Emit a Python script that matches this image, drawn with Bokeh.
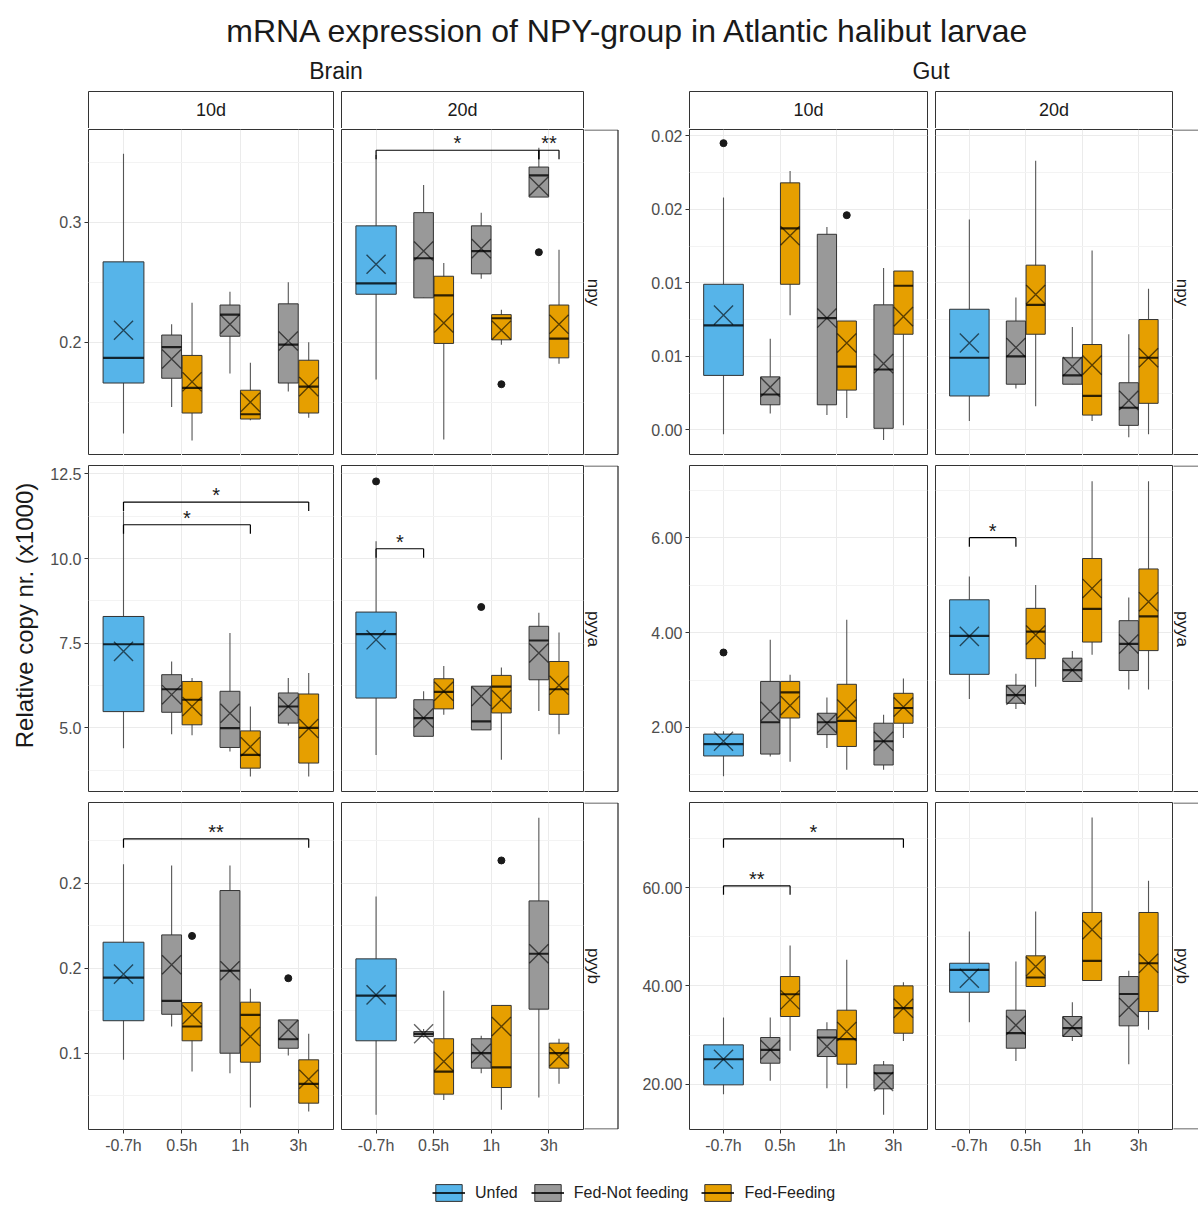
import math
from bokeh.plotting import figure
from bokeh.models import (ColumnDataSource, Range1d, LinearAxis, FixedTicker,
                          Grid, Label, Legend, LegendItem, Spacer)
from bokeh.layouts import row, column
from bokeh.embed import file_html
from bokeh.resources import INLINE
from bokeh.core.properties import value

# ---------------------------------------------------------------- data
chart_title = "mRNA expression of NPY-group in Atlantic halibut larvae"
y_title = "Relative copy nr. (x1000)"
tissues = ["Brain", "Gut"]
days = ["10d", "20d"]
genes = ["npy", "pyya", "pyyb"]
times = ["-0.7h", "0.5h", "1h", "3h"]
groups = ["Unfed", "Fed-Not feeding", "Fed-Feeding"]

# one box per (time, group)
box_time = [0, 1, 1, 2, 2, 3, 3]
box_group = [0, 1, 2, 1, 2, 1, 2]

# [lower whisker, Q1, median, Q3, upper whisker, mean] per box
brain_npy_10d = [
    [0.124, 0.166, 0.187, 0.267, 0.357, 0.210],
    [0.146, 0.170, 0.196, 0.206, 0.215, 0.186],
    [0.118, 0.141, 0.162, 0.189, 0.233, 0.167],
    [0.174, 0.205, 0.223, 0.231, 0.242, 0.215],
    [0.135, 0.136, 0.140, 0.160, 0.183, 0.150],
    [0.159, 0.166, 0.198, 0.232, 0.250, 0.201],
    [0.137, 0.141, 0.163, 0.185, 0.200, 0.163],
]
brain_npy_20d = [
    [0.169, 0.240, 0.249, 0.297, 0.356, 0.265],
    [0.237, 0.237, 0.270, 0.308, 0.331, 0.276],
    [0.119, 0.199, 0.239, 0.255, 0.266, 0.216],
    [0.253, 0.257, 0.276, 0.297, 0.308, 0.278],
    [0.198, 0.202, 0.220, 0.223, 0.227, 0.210],
    [0.321, 0.321, 0.339, 0.346, 0.362, 0.330],
    [0.182, 0.187, 0.203, 0.231, 0.277, 0.215],
]
gut_npy_10d = [
    [-0.0003, 0.0037, 0.0071, 0.0099, 0.0158, 0.0078],
    [0.0011, 0.0017, 0.0024, 0.0036, 0.0062, 0.0029],
    [0.0078, 0.0099, 0.0137, 0.0168, 0.0176, 0.0132],
    [0.0010, 0.0017, 0.0076, 0.0133, 0.0138, 0.0076],
    [0.0008, 0.0027, 0.0043, 0.0074, 0.0074, 0.0059],
    [-0.0007, 0.0001, 0.0041, 0.0085, 0.0110, 0.0045],
    [0.0003, 0.0065, 0.0098, 0.0108, 0.0108, 0.0077],
]
gut_npy_20d = [
    [0.0006, 0.0023, 0.0049, 0.0082, 0.0143, 0.0059],
    [0.0028, 0.0031, 0.0050, 0.0074, 0.0090, 0.0056],
    [0.0016, 0.0065, 0.0085, 0.0112, 0.0183, 0.0092],
    [0.0031, 0.0031, 0.0037, 0.0049, 0.0070, 0.0043],
    [0.0006, 0.0010, 0.0023, 0.0058, 0.0122, 0.0044],
    [-0.0005, 0.0003, 0.0015, 0.0032, 0.0065, 0.0020],
    [-0.0003, 0.0018, 0.0049, 0.0075, 0.0096, 0.0049],
]
brain_pyya_10d = [
    [4.40, 5.48, 7.47, 8.29, 11.39, 7.26],
    [4.81, 5.46, 6.14, 6.57, 6.96, 5.98],
    [4.78, 5.09, 5.83, 6.37, 6.47, 5.63],
    [4.30, 4.42, 4.99, 6.08, 7.80, 5.43],
    [3.56, 3.81, 4.20, 4.91, 5.63, 4.44],
    [5.07, 5.14, 5.63, 6.03, 6.47, 5.63],
    [3.56, 3.96, 5.00, 6.00, 6.62, 4.98],
]
brain_pyya_20d = [
    [4.20, 5.88, 7.77, 8.42, 10.51, 7.60],
    [4.75, 4.75, 5.29, 5.83, 6.08, 5.29],
    [5.39, 5.56, 6.06, 6.45, 6.83, 6.08],
    [4.94, 4.94, 5.19, 6.23, 6.23, 5.93],
    [4.06, 5.44, 6.22, 6.55, 6.78, 5.83],
    [5.50, 6.42, 7.58, 8.00, 8.40, 7.21],
    [4.81, 5.40, 6.14, 6.96, 7.82, 6.26],
]
gut_pyya_10d = [
    [0.97, 1.40, 1.65, 1.86, 1.92, 1.71],
    [1.39, 1.44, 2.11, 2.97, 3.85, 2.34],
    [1.28, 2.20, 2.74, 2.97, 3.11, 2.46],
    [1.57, 1.85, 2.11, 2.30, 2.63, 2.09],
    [1.11, 1.60, 2.14, 2.91, 4.27, 2.39],
    [1.11, 1.21, 1.71, 2.09, 2.27, 1.71],
    [1.78, 2.09, 2.41, 2.72, 3.03, 2.43],
]
gut_pyya_20d = [
    [2.60, 3.12, 3.93, 4.69, 5.18, 3.92],
    [2.39, 2.51, 2.68, 2.89, 3.13, 2.68],
    [2.86, 3.45, 4.02, 4.51, 5.00, 3.95],
    [2.97, 2.97, 3.21, 3.46, 3.61, 3.21],
    [3.53, 3.80, 4.50, 5.56, 7.19, 4.93],
    [2.80, 3.20, 3.76, 4.25, 4.74, 3.76],
    [2.80, 3.62, 4.34, 5.34, 7.19, 4.65],
]
brain_pyyb_10d = [
    [0.0961, 0.1191, 0.1445, 0.1653, 0.2112, 0.1465],
    [0.1157, 0.1229, 0.1308, 0.1696, 0.2104, 0.1520],
    [0.0892, 0.1073, 0.1157, 0.1298, 0.1298, 0.1226],
    [0.0882, 0.1000, 0.1485, 0.1957, 0.2104, 0.1485],
    [0.0681, 0.0947, 0.1226, 0.1300, 0.1379, 0.1098],
    [0.0986, 0.1029, 0.1082, 0.1196, 0.1196, 0.1138],
    [0.0657, 0.0706, 0.0820, 0.0961, 0.1114, 0.0847],
]
brain_pyyb_20d = [
    [0.0638, 0.1073, 0.1339, 0.1555, 0.1922, 0.1343],
    [0.1092, 0.1098, 0.1114, 0.1127, 0.1143, 0.1114],
    [0.0725, 0.0759, 0.0892, 0.1085, 0.1367, 0.0951],
    [0.0882, 0.0912, 0.1000, 0.1085, 0.1102, 0.1000],
    [0.0667, 0.0798, 0.0916, 0.1281, 0.1281, 0.1157],
    [0.0739, 0.1259, 0.1585, 0.1896, 0.2386, 0.1585],
    [0.0820, 0.0912, 0.1000, 0.1059, 0.1085, 0.0980],
]
gut_pyyb_10d = [
    [17.97, 19.87, 25.08, 28.00, 33.57, 25.08],
    [20.69, 24.27, 27.00, 29.50, 33.57, 27.00],
    [26.80, 33.77, 38.30, 41.90, 48.21, 37.16],
    [19.20, 25.63, 29.50, 31.07, 32.60, 27.70],
    [19.20, 24.07, 29.16, 35.05, 45.30, 30.72],
    [13.78, 19.06, 22.23, 23.92, 24.74, 20.54],
    [28.80, 30.37, 35.46, 40.00, 40.75, 35.46],
]
gut_pyyb_20d = [
    [32.60, 38.71, 43.26, 44.60, 51.06, 41.56],
    [24.74, 27.32, 30.37, 35.05, 44.95, 32.00],
    [39.87, 39.87, 41.70, 46.11, 55.12, 43.94],
    [28.80, 29.70, 31.40, 33.77, 36.68, 31.70],
    [41.09, 41.09, 45.10, 54.92, 74.24, 51.40],
    [24.07, 31.87, 38.35, 41.90, 43.06, 35.60],
    [31.07, 34.78, 44.60, 54.92, 61.37, 44.60],
]

# outliers: (box index, value)
brain_npy_20d_outliers = [(4, 0.165), (5, 0.275)]
gut_npy_10d_outliers = [(0, 0.0195), (4, 0.0146)]
brain_pyya_20d_outliers = [(0, 12.28), (3, 8.57)]
gut_pyya_10d_outliers = [(0, 3.58)]
brain_pyyb_10d_outliers = [(2, 0.169), (5, 0.1441)]
brain_pyyb_20d_outliers = [(4, 0.2134)]

# significance brackets: (box a, box b, bracket level, label)
brain_npy_20d_sig = [(0, 5, 0.360, "*"), (5, 6, 0.360, "**")]
brain_pyya_10d_sig = [(0, 6, 11.67, "*"), (0, 4, 11.00, "*")]
brain_pyya_20d_sig = [(0, 1, 10.29, "*")]
gut_pyya_20d_sig = [(0, 1, 6.00, "*")]
brain_pyyb_10d_sig = [(0, 6, 0.2261, "**")]
gut_pyyb_10d_sig = [(0, 6, 69.9, "*"), (0, 2, 60.35, "**")]

# y-axis ticks and tick labels
brain_npy_ticks = [0.2, 0.3]
brain_npy_tick_labels = ["0.2", "0.3"]
gut_npy_ticks = [0, 0.005, 0.01, 0.015, 0.02]
gut_npy_tick_labels = ["0.00", "0.01", "0.01", "0.02", "0.02"]
brain_pyya_ticks = [5, 7.5, 10, 12.5]
brain_pyya_tick_labels = ["5.0", "7.5", "10.0", "12.5"]
gut_pyya_ticks = [2, 4, 6]
gut_pyya_tick_labels = ["2.00", "4.00", "6.00"]
brain_pyyb_ticks = [0.1, 0.15, 0.2]
brain_pyyb_tick_labels = ["0.1", "0.2", "0.2"]
gut_pyyb_ticks = [20, 40, 60]
gut_pyyb_tick_labels = ["20.00", "40.00", "60.00"]

# ------------------------------------------------------ lookup tables
G = globals()
stats = {(t, g, d): G[f"{t.lower()}_{g}_{d}"] for t in tissues for g in genes for d in days}
outliers = {k: G.get(f"{k[0].lower()}_{k[1]}_{k[2]}_outliers", []) for k in stats}
sigs = {k: G.get(f"{k[0].lower()}_{k[1]}_{k[2]}_sig", []) for k in stats}
ticks = {(t, g): G[f"{t.lower()}_{g}_ticks"] for t in tissues for g in genes}
tick_labels = {(t, g): G[f"{t.lower()}_{g}_tick_labels"] for t in tissues for g in genes}

# ------------------------------------------------------ styling / layout
FONT = "Liberation Sans"
EDGE = "#333333"
group_colors = ["#56B4E9", "#999999", "#E69F00"]
group_offset = [0.0, -0.175, 0.175]
group_width = [0.70, 0.34, 0.34]
y_limits = {
    ("Brain", "npy"): (0.1056, 0.3773), ("Gut", "npy"): (-0.00175, 0.02043),
    ("Brain", "pyya"): (3.09, 12.75), ("Gut", "pyya"): (0.63, 7.52),
    ("Brain", "pyyb"): (0.0551, 0.2475), ("Gut", "pyyb"): (10.79, 77.29),
}
HEADER_H, STRIP_H, LEGEND_H, YLAB_W, TOTAL_W = 90, 38, 44, 45, 1198
# (figure width, left border) per column
col_spec = {("Brain", "10d"): (289, 43), ("Brain", "20d"): (250, 7),
            ("Gut", "10d"): (309, 70), ("Gut", "20d"): (245, 7)}
strip_w = {"Brain": 35, "Gut": 25}
# (frame height, top border, bottom border) per row
row_spec = [(326, 1, 0), (327, 10, 0), (327, 10, 32)]

# screen x of each column's canvas
col_left = {}
_x = YLAB_W
for _t in tissues:
    col_left[(_t, "10d")] = _x; _x += col_spec[(_t, "10d")][0]
    col_left[(_t, "20d")] = _x; _x += col_spec[(_t, "20d")][0]
    col_left[(_t, "strip")] = _x; _x += strip_w[_t]


def base_fig(width, height, xr, yr, bl=0, br=0, bt=0, bb=0):
    p = figure(width=width, height=height, x_range=xr, y_range=yr,
               output_backend="svg", toolbar_location=None, title=None,
               x_axis_location=None, y_axis_location=None,
               min_border_left=bl, min_border_right=br,
               min_border_top=bt, min_border_bottom=bb)
    p.center = []
    p.outline_line_color = None
    p.background_fill_color = "white"
    p.border_fill_color = "white"
    return p


def style_axis(ax):
    ax.axis_line_color = None
    ax.major_tick_line_color = EDGE
    ax.major_tick_out = 4
    ax.major_tick_in = 0
    ax.minor_tick_line_color = None
    ax.major_label_standoff = 3
    ax.major_label_text_font = FONT
    ax.major_label_text_font_size = "16px"
    ax.major_label_text_color = "#4D4D4D"


def overrides(vals, labs):
    d = {}
    for v, l in zip(vals, labs):
        d[v] = l
        d[str(v)] = l
    return d


def make_panel(tissue, gene, day, yr, ri):
    width, bl = col_spec[(tissue, day)]
    fh, bt, bb = row_spec[ri]
    p = base_fig(width, fh + bt + bb, Range1d(0.4, 4.6), yr, bl=bl, br=1, bt=bt, bb=bb)
    p.outline_line_color = EDGE
    p.outline_line_width = 1

    tk = ticks[(tissue, gene)]
    step = tk[1] - tk[0]
    minors = [tk[0] + step * (k + 0.5) for k in range(-4, len(tk) + 4)]
    minors = [m for m in minors if yr.start < m < yr.end]
    p.add_layout(Grid(dimension=0, ticker=FixedTicker(ticks=[1, 2, 3, 4]),
                      grid_line_color="#EBEBEB", grid_line_width=1), "center")
    p.add_layout(Grid(dimension=1, ticker=FixedTicker(ticks=tk, minor_ticks=minors),
                      grid_line_color="#EBEBEB", grid_line_width=1,
                      minor_grid_line_color="#F3F3F3"), "center")

    if day == "10d":
        ax = LinearAxis(ticker=FixedTicker(ticks=tk),
                        major_label_overrides=overrides(tk, tick_labels[(tissue, gene)]))
        style_axis(ax)
        p.add_layout(ax, "left")
    if ri == 2:
        ax = LinearAxis(ticker=FixedTicker(ticks=[1, 2, 3, 4]),
                        major_label_overrides=overrides([1, 2, 3, 4], times))
        style_axis(ax)
        p.add_layout(ax, "below")

    st = stats[(tissue, gene, day)]
    xs = [box_time[i] + 1 + group_offset[box_group[i]] for i in range(len(st))]
    hw = [group_width[box_group[i]] / 2 for i in range(len(st))]
    src = ColumnDataSource(dict(
        x=xs, left=[x - h for x, h in zip(xs, hw)], right=[x + h for x, h in zip(xs, hw)],
        lo=[s[0] for s in st], q1=[s[1] for s in st], med=[s[2] for s in st],
        q3=[s[3] for s in st], hi=[s[4] for s in st], mean=[s[5] for s in st],
        fill=[group_colors[box_group[i]] for i in range(len(st))]))
    p.segment(x0="x", y0="lo", x1="x", y1="hi", source=src, line_color="#555555", line_width=1.1)
    p.quad(left="left", right="right", bottom="q1", top="q3", source=src,
           fill_color="fill", line_color=EDGE, line_width=1)
    p.segment(x0="left", y0="med", x1="right", y1="med", source=src,
              line_color="black", line_alpha=0.8, line_width=2.2)
    p.scatter(x="x", y="mean", source=src, marker="x", size=27,
              line_color="black", line_alpha=0.6, line_width=1.4)

    outs = outliers[(tissue, gene, day)]
    if outs:
        p.scatter(x=[xs[i] for i, _ in outs], y=[v for _, v in outs], size=7,
                  fill_color="#1A1A1A", line_color="#1A1A1A")

    sg = sigs[(tissue, gene, day)]
    if sg:
        tick_len = (yr.end - yr.start) * 9.0 / fh
        x0, y0, x1, y1, tx, ty, tt = [], [], [], [], [], [], []
        for a, b, lev, lab in sg:
            xa, xb = xs[a], xs[b]
            x0 += [xa, xa, xb]; x1 += [xb, xa, xb]
            y0 += [lev, lev, lev]; y1 += [lev, lev - tick_len, lev - tick_len]
            tx.append((xa + xb) / 2); ty.append(lev); tt.append(lab)
        p.segment(x0=x0, y0=y0, x1=x1, y1=y1, line_color="black", line_width=1.2)
        p.text(x=tx, y=ty, text=tt, y_offset=-7, text_align="center",
               text_baseline="middle", text_font=value(FONT),
               text_font_size="20px", text_color="#1A1A1A")
    return p


def top_strip(tissue, day):
    # decoration drawn in screen pixels: x = page x, y = pixels above strip bottom
    width, bl = col_spec[(tissue, day)]
    cl = col_left[(tissue, day)]
    p = base_fig(width, STRIP_H, Range1d(cl, cl + width), Range1d(0, STRIP_H))
    xl, xr = cl + bl, cl + width - 1
    top = STRIP_H - 1
    p.segment(x0=[xl, xl, xr], y0=[top, 0, 0], x1=[xr, xl, xr], y1=[top, top, top],
              line_color=EDGE, line_width=1)
    p.add_layout(Label(x=(xl + xr) / 2, y=top / 2, text=day, text_align="center",
                       text_baseline="middle", text_font=FONT, text_font_size="18px",
                       text_color="#1A1A1A"))
    return p


def right_strip(tissue, gene, ri):
    # the row aligns this figure's frame with the panels' frames
    w = strip_w[tissue]
    cl = col_left[(tissue, "strip")]
    fh, bt, bb = row_spec[ri]
    p = base_fig(w, fh + bt + bb, Range1d(cl, cl + w), Range1d(0, fh), bt=bt, bb=bb)
    y_top = fh - 0.5
    y_bot = 1 if bb == 0 else 0.5
    x_end = cl + w - 1.5 if tissue == "Brain" else cl + w + 2
    x0 = [cl - 1, cl - 1]; x1 = [x_end, x_end]; y0 = [y_top, y_bot]; y1 = [y_top, y_bot]
    p.segment(x0=x0, y0=y0, x1=x1, y1=y1, line_color=EDGE, line_width=1)
    if tissue == "Brain":
        p.segment(x0=[x_end], y0=[y_bot], x1=[x_end], y1=[y_top],
                  line_color=EDGE, line_width=1.3)
    p.add_layout(Label(x=cl + 9, y=fh / 2, text=gene, angle=-math.pi / 2,
                       text_align="center", text_baseline="middle", text_font=FONT,
                       text_font_size="17px", text_color="#1A1A1A"))
    return p


# ------------------------------------------------------------ header
hdr = base_fig(TOTAL_W, HEADER_H, Range1d(0, TOTAL_W), Range1d(0, HEADER_H))
hdr.add_layout(Label(x=628, y=HEADER_H - 30, text=chart_title, text_align="center",
                     text_baseline="middle", text_font=FONT, text_font_size="32px",
                     text_color="#1A1A1A"))
for t in tissues:
    left = col_left[(t, "10d")] + col_spec[(t, "10d")][1]
    right = col_left[(t, "strip")] - 1
    hdr.add_layout(Label(x=(left + right) / 2, y=HEADER_H - 70, text=t, text_align="center",
                         text_baseline="middle", text_font=FONT, text_font_size="23px",
                         text_color="#1A1A1A"))

# ------------------------------------------------------------ panels
strip_children = []
for t in tissues:
    strip_children += [top_strip(t, "10d"), top_strip(t, "20d"),
                       Spacer(width=strip_w[t], height=STRIP_H)]
grid_rows = [row(*strip_children)]
for ri, g in enumerate(genes):
    children = []
    for t in tissues:
        lo, hi = y_limits[(t, g)]
        yr = Range1d(lo, hi)
        children += [make_panel(t, g, "10d", yr, ri), make_panel(t, g, "20d", yr, ri),
                     right_strip(t, g, ri)]
    grid_rows.append(row(*children))

body_h = STRIP_H + sum(fh + bt + bb for fh, bt, bb in row_spec)
ylab = base_fig(YLAB_W, body_h, Range1d(0, YLAB_W), Range1d(0, body_h))
ylab.add_layout(Label(x=24, y=body_h - (615 - HEADER_H), text=y_title, angle=math.pi / 2,
                      text_align="center", text_baseline="middle", text_font=FONT,
                      text_font_size="24px", text_color="#1A1A1A"))

# ------------------------------------------------------------ legend
lg = base_fig(TOTAL_W, LEGEND_H, Range1d(0, 1), Range1d(0, 1))
items = []
for gi, name in enumerate(groups):
    # keys only: the glyphs sit outside the visible range
    r1 = lg.quad(left=[5], right=[6], top=[6], bottom=[5], fill_color=group_colors[gi],
                 line_color=EDGE, line_width=1)
    r2 = lg.segment(x0=[5], y0=[5], x1=[6], y1=[5], line_color="black", line_alpha=0.8,
                    line_width=2)
    items.append(LegendItem(label=name, renderers=[r1, r2]))
legend = Legend(items=items, orientation="horizontal", location=(432, 2),
                glyph_width=33, glyph_height=21, label_standoff=10, spacing=13,
                padding=0, margin=0, border_line_color=None, background_fill_alpha=0,
                label_text_font=FONT, label_text_font_size="16px",
                label_text_color="#222222")
lg.add_layout(legend)

page = column(hdr, row(ylab, column(*grid_rows)), lg)

with open("out.html", "w") as f:
    f.write(file_html(page, INLINE, title="NPY-group expression"))
